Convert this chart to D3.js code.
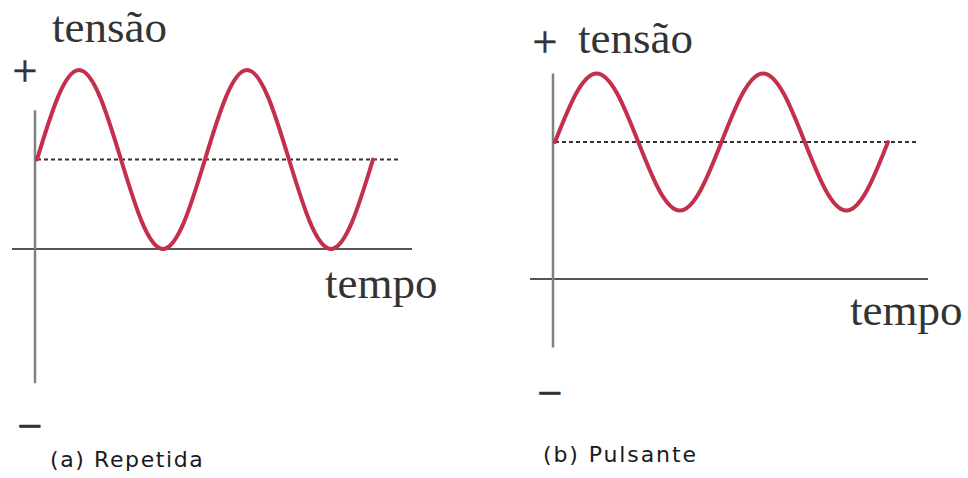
<!DOCTYPE html>
<html>
<head>
<meta charset="utf-8">
<script src="https://cdn.jsdelivr.net/npm/d3@7"></script>
<style>
  body { margin: 0; background: #fff; }
  svg { display: block; }
</style>
</head>
<body>
<div id="chart"></div>
<script>
// tempo em oitavos de período (2 períodos completos)
const tempo = [0, 1, 2, 3, 4, 5, 6, 7, 8, 9, 10, 11, 12, 13, 14, 15, 16];

// (a) Repetida: oscila entre 0 e 2, média 1
const tensaoRepetida = [1, 1.7, 2, 1.7, 1, 0.3, 0, 0.3, 1, 1.7, 2, 1.7, 1, 0.3, 0, 0.3, 1];
// (b) Pulsante: oscila entre 0.5 e 1.5, média 1
const tensaoPulsante = [1, 1.35, 1.5, 1.35, 1, 0.65, 0.5, 0.65, 1, 1.35, 1.5, 1.35, 1, 0.65, 0.5, 0.65, 1];

const mediaRepetida = 1;
const mediaPulsante = 1;

const legendas = ["(a) Repetida", "(b) Pulsante"];

const W = 968, H = 478;

const svg = d3.select("#chart")
  .append("svg")
  .attr("width", W)
  .attr("height", H);

const panels = [
  {
    values: tensaoRepetida, media: mediaRepetida, caption: legendas[0],
    xRange: [37, 373], yDomain: [0, 1], yRange: [249, 159.5],
    axisX: 35, hAxis: [12, 412], vAxis: [1.55, -1.5], dashEnd: 400,
    plus: [25, 86], minus: [30, 441], tensao: [52, 42], tempoLbl: [325, 298],
    cap: [50, 467], spacing: 1.6
  },
  {
    values: tensaoPulsante, media: mediaPulsante, caption: legendas[1],
    xRange: [555, 888], yDomain: [0, 1], yRange: [279, 142],
    axisX: 553, hAxis: [530, 928], vAxis: [1.5, -0.5], dashEnd: 917,
    plus: [545, 57], minus: [550, 408], tensao: [578, 53], tempoLbl: [850, 325],
    cap: [543, 462], spacing: 1.9
  }
];

panels.forEach(function(p) {
  const g = svg.append("g");

  const x = d3.scaleLinear()
    .domain(d3.extent(tempo))
    .range(p.xRange);

  const y = d3.scaleLinear()
    .domain(p.yDomain)
    .range(p.yRange);

  // eixo horizontal (tempo)
  g.append("line")
    .attr("x1", p.hAxis[0]).attr("x2", p.hAxis[1])
    .attr("y1", y(0)).attr("y2", y(0))
    .attr("stroke", "#555")
    .attr("stroke-width", 2);

  // eixo vertical (tensão)
  g.append("line")
    .attr("x1", p.axisX).attr("x2", p.axisX)
    .attr("y1", y(p.vAxis[0])).attr("y2", y(p.vAxis[1]))
    .attr("stroke", "#808080")
    .attr("stroke-width", 2.5);

  // linha média tracejada
  g.append("line")
    .attr("x1", x(0)).attr("x2", p.dashEnd)
    .attr("y1", y(p.media)).attr("y2", y(p.media))
    .attr("stroke", "#333")
    .attr("stroke-width", 1.8)
    .attr("stroke-dasharray", "4,3");

  // curva da tensão
  g.append("path")
    .datum(tempo.map(function(t, i) { return { t: t, v: p.values[i] }; }))
    .attr("d", d3.line()
      .x(function(d) { return x(d.t); })
      .y(function(d) { return y(d.v); })
      .curve(d3.curveNatural))
    .attr("fill", "none")
    .attr("stroke", "#c4304c")
    .attr("stroke-width", 4)
    .attr("stroke-linecap", "round");

  const serif = "'Liberation Serif', 'Times New Roman', serif";

  g.append("text")
    .attr("x", p.plus[0]).attr("y", p.plus[1])
    .attr("text-anchor", "middle")
    .attr("font-family", serif).attr("font-size", 44)
    .attr("fill", "#333")
    .attr("stroke", "#333").attr("stroke-width", 0.6)
    .text("+");

  g.append("text")
    .attr("x", p.minus[0]).attr("y", p.minus[1])
    .attr("text-anchor", "middle")
    .attr("font-family", serif).attr("font-size", 44)
    .attr("fill", "#333")
    .attr("stroke", "#333").attr("stroke-width", 0.8)
    .text("−");

  g.append("text")
    .attr("x", p.tensao[0]).attr("y", p.tensao[1])
    .attr("font-family", serif).attr("font-size", 45)
    .attr("fill", "#333")
    .text("tensão");

  g.append("text")
    .attr("x", p.tempoLbl[0]).attr("y", p.tempoLbl[1])
    .attr("font-family", serif).attr("font-size", 45)
    .attr("fill", "#333")
    .text("tempo");

  g.append("text")
    .attr("x", p.cap[0]).attr("y", p.cap[1])
    .attr("font-family", "'DejaVu Sans', sans-serif").attr("font-size", 22)
    .attr("letter-spacing", p.spacing)
    .attr("fill", "#1a1a1a")
    .text(p.caption);
});
</script>
</body>
</html>
